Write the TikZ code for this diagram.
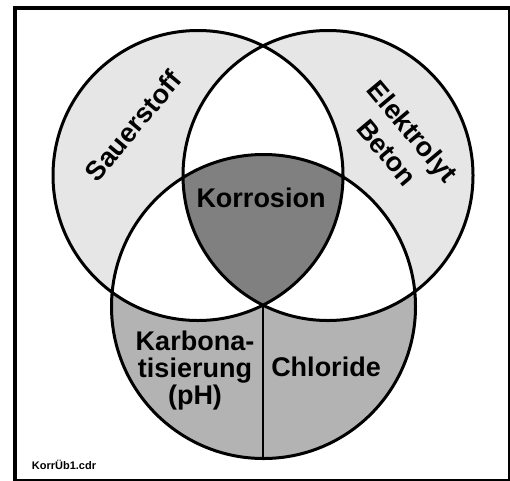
\documentclass[tikz,border=0pt]{standalone}
\usepackage{fontspec}
\setmainfont{Liberation Sans}
\usepackage{tikz}
\definecolor{hellgrau}{RGB}{230,230,230}
\definecolor{mittelgrau}{RGB}{179,179,179}
\definecolor{dunkelgrau}{RGB}{128,128,128}
\tikzset{
	ring/.style={line width=3pt, draw=black},
	rahmen/.style={line width=4pt, draw=black},
	beschriftung/.style={
		font=\bfseries\fontsize{27}{27}\selectfont,
		text=black, align=center, inner sep=0pt
	},
	dateiname/.style={font=\bfseries\fontsize{11}{11}\selectfont, inner sep=0pt}
}

\begin{document}
\begin{tikzpicture}[x=1pt,y=-1pt]
	\useasboundingbox (0,0) rectangle (510,480);
	\coordinate (O) at (198,175.5);
	\coordinate (E) at (328,175.5);
	\coordinate (U) at (263.5,306.5);
	\coordinate (spitze) at (263,305.1);
	\coordinate (boden) at (263,458.5);
	\fill[hellgrau] (O) circle (145pt) (E) circle (145pt);
	\fill[mittelgrau] (U) circle (152pt);
	\begin{scope}
		\clip (O) circle (145pt);
		\fill[white] (E) circle (145pt) (U) circle (152pt);
	\end{scope}
	\begin{scope}
		\clip (E) circle (145pt);
		\fill[white] (U) circle (152pt);
	\end{scope}
	\begin{scope}
		\clip (O) circle (145pt);
		\clip (E) circle (145pt);
		\fill[dunkelgrau] (U) circle (152pt);
	\end{scope}
	\draw[ring] (O) circle (145pt) (E) circle (145pt) (U) circle (152pt);
	\draw[line width=2.5pt] (spitze) -- (boden);
	\node[beschriftung] (korrosion) at (261,198) {Korrosion};
	\node[beschriftung, rotate=50] (sauerstoff) at (133,126) {Sauerstoff};
	\node[beschriftung, rotate=-50, font=\bfseries\fontsize{27}{33}\selectfont] (elektrolyt) at (400,142) {Elektrolyt\\Beton};
	\node[beschriftung] (karbonat) at (195,371) {Karbona-\\tisierung\\(pH)};
	\node[beschriftung] (chloride) at (326,367) {Chloride};
	\node[dateiname] (datei) at (64,465) {KorrÜb1.cdr};
	\draw[rahmen] (14.5,7.5) rectangle (509.5,480.5);
\end{tikzpicture}
\end{document}
